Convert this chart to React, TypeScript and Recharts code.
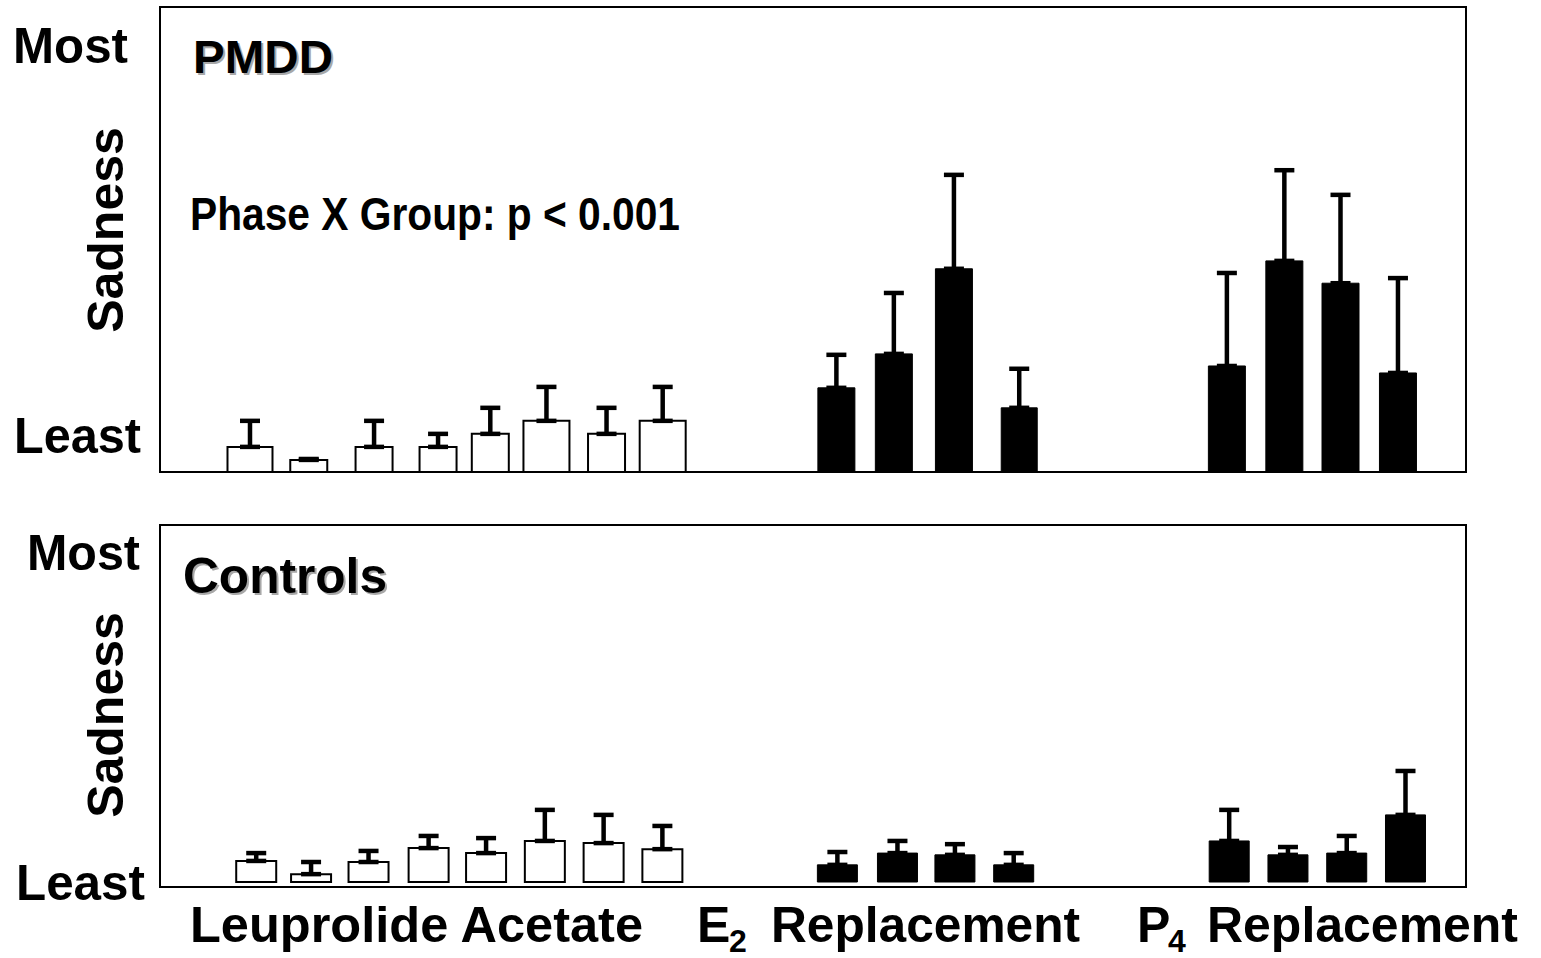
import { Bar, BarChart, ErrorBar, ReferenceArea, Rectangle, XAxis, YAxis } from "recharts"

// Sadness ratings on a 0 (least) .. 100 (most) scale, with the upper SEM.
// Leuprolide acetate: 8 phases, E2 and P4 replacement: 4 phases each.
const leuproPmdd = [5.4, 2.6, 5.4, 5.4, 8.2, 11.0, 8.2, 11.0]
const leuproPmddSem = [5.6, 0.2, 5.6, 2.8, 5.6, 7.3, 5.6, 7.3]
const e2Pmdd = [18.1, 25.4, 43.7, 13.8]
const e2PmddSem = [7.1, 13.1, 20.2, 8.4]
const p4Pmdd = [22.8, 45.4, 40.6, 21.3]
const p4PmddSem = [20.0, 19.5, 19.0, 20.4]

const leuproCtrl = [5.9, 2.2, 5.6, 9.5, 8.1, 11.5, 10.9, 9.2]
const leuproCtrlSem = [2.2, 3.4, 3.1, 3.4, 4.2, 8.7, 7.9, 6.5]
const e2Ctrl = [4.8, 8.1, 7.6, 4.8]
const e2CtrlSem = [3.6, 3.4, 3.0, 3.3]
const p4Ctrl = [11.5, 7.6, 8.1, 18.8]
const p4CtrlSem = [8.7, 2.2, 4.8, 12.3]

// where each phase sits along the x axis (0..100)
const leuproAtPmdd = [6.9, 11.4, 16.4, 21.3, 25.3, 29.6, 34.2, 38.5]
const e2AtPmdd = [51.8, 56.2, 60.8, 65.8]
const p4AtPmdd = [81.7, 86.1, 90.4, 94.8]
const leuproAtCtrl = [7.4, 11.6, 16.0, 20.6, 25.0, 29.5, 34.0, 38.5]
const e2AtCtrl = [51.9, 56.5, 60.9, 65.4]
const p4AtCtrl = [81.9, 86.4, 90.9, 95.4]

const rows = (kind: string, means: number[], sems: number[], at: number[]) =>
  means.map((m, i) => ({ kind, pos: at[i], mean: m, sem: sems[i] }))

const pmddData = [
  ...rows("leupro", leuproPmdd, leuproPmddSem, leuproAtPmdd),
  ...rows("e2", e2Pmdd, e2PmddSem, e2AtPmdd),
  ...rows("p4", p4Pmdd, p4PmddSem, p4AtPmdd),
]
const ctrlData = [
  ...rows("leupro", leuproCtrl, leuproCtrlSem, leuproAtCtrl),
  ...rows("e2", e2Ctrl, e2CtrlSem, e2AtCtrl),
  ...rows("p4", p4Ctrl, p4CtrlSem, p4AtCtrl),
]

// bar widths in px (top panel bars are a little uneven)
const pmddWidths = [45, 37, 37, 37, 37, 46, 37, 46, 37, 37, 37, 36, 37, 37, 37, 37]
const ctrlWidths = new Array(16).fill(40)

const font = '"Liberation Sans", Arial, Helvetica, sans-serif'

const barShape = (widths: number[]) => (props: any) => {
  const w = widths[props.index] ?? props.width
  const cx = props.x + props.width / 2
  const white = props.payload.kind === "leupro"
  return (
    <Rectangle
      x={cx - w / 2}
      y={props.y}
      width={w}
      height={props.height}
      fill={white ? "#fff" : "#000"}
      stroke="#000"
      strokeWidth={white ? 2 : 1}
    />
  )
}

const Panel = ({ data, top, height, margin, yMin, widths, barSize }: any) => (
  <div style={{ position: "absolute", left: 0, top }}>
    <BarChart width={1541} height={height} data={data} margin={margin}>
      <XAxis type="number" dataKey="pos" domain={[0, 100]} hide />
      <YAxis type="number" domain={[yMin, 100]} hide />
      <ReferenceArea x1={0} x2={100} y1={yMin} y2={100} fill="none" stroke="#000" strokeWidth={2} ifOverflow="visible" />
      <Bar dataKey="mean" barSize={barSize} isAnimationActive={false} shape={barShape(widths)}>
        <ErrorBar dataKey={(d: any) => [0, d.sem]} width={10} strokeWidth={4.5} stroke="#000" direction="y" />
      </Bar>
    </BarChart>
  </div>
)

const Shadowed = ({ x, y, size, len, children }: any) => (
  <>
    <text x={x + 2} y={y + 2} fontSize={size} textLength={len} lengthAdjust="spacingAndGlyphs" fill="#a8a8a8">
      {children}
    </text>
    <text x={x} y={y} fontSize={size} textLength={len} lengthAdjust="spacingAndGlyphs" fill="#000">
      {children}
    </text>
  </>
)

const App = () => (
  <div style={{ position: "absolute", left: 0, top: 0, width: 1541, height: 958, background: "#fff" }}>
    <Panel data={pmddData} top={0} height={480} margin={{ top: 7, right: 75, bottom: 8, left: 160 }} yMin={0} widths={pmddWidths} barSize={38} />
    <Panel data={ctrlData} top={480} height={420} margin={{ top: 45, right: 75, bottom: 13, left: 160 }} yMin={-1.4} widths={ctrlWidths} barSize={40} />

    <svg width={1541} height={958} style={{ position: "absolute", left: 0, top: 0, pointerEvents: "none" }} fontFamily={font} fontWeight="bold">
      {/* y labels, PMDD panel */}
      <text x={13} y={63} fontSize={50} textLength={115} lengthAdjust="spacingAndGlyphs">Most</text>
      <text x={14} y={453} fontSize={50} textLength={127} lengthAdjust="spacingAndGlyphs">Least</text>
      <text x={123} y={230} fontSize={50} textAnchor="middle" transform="rotate(-90 123 230)">Sadness</text>

      {/* y labels, controls panel */}
      <text x={27} y={570} fontSize={50} textLength={113} lengthAdjust="spacingAndGlyphs">Most</text>
      <text x={16} y={900} fontSize={50} textLength={129} lengthAdjust="spacingAndGlyphs">Least</text>
      <text x={123} y={715} fontSize={50} textAnchor="middle" transform="rotate(-90 123 715)">Sadness</text>

      <Shadowed x={193} y={73} size={47} len={140}>PMDD</Shadowed>
      <Shadowed x={183} y={593} size={50} len={204}>Controls</Shadowed>
      <text x={190} y={230} fontSize={46} textLength={490} lengthAdjust="spacingAndGlyphs">Phase X Group: p &lt; 0.001</text>

      {/* treatment labels */}
      <text x={190} y={942} fontSize={50} textLength={453} lengthAdjust="spacingAndGlyphs">Leuprolide Acetate</text>
      <text x={697} y={942} fontSize={50}>E</text>
      <text x={729} y={952} fontSize={32}>2</text>
      <text x={771} y={942} fontSize={50} textLength={309} lengthAdjust="spacingAndGlyphs">Replacement</text>
      <text x={1137} y={942} fontSize={50}>P</text>
      <text x={1168} y={952} fontSize={32}>4</text>
      <text x={1207} y={942} fontSize={50} textLength={311} lengthAdjust="spacingAndGlyphs">Replacement</text>
    </svg>
  </div>
)

export default App
